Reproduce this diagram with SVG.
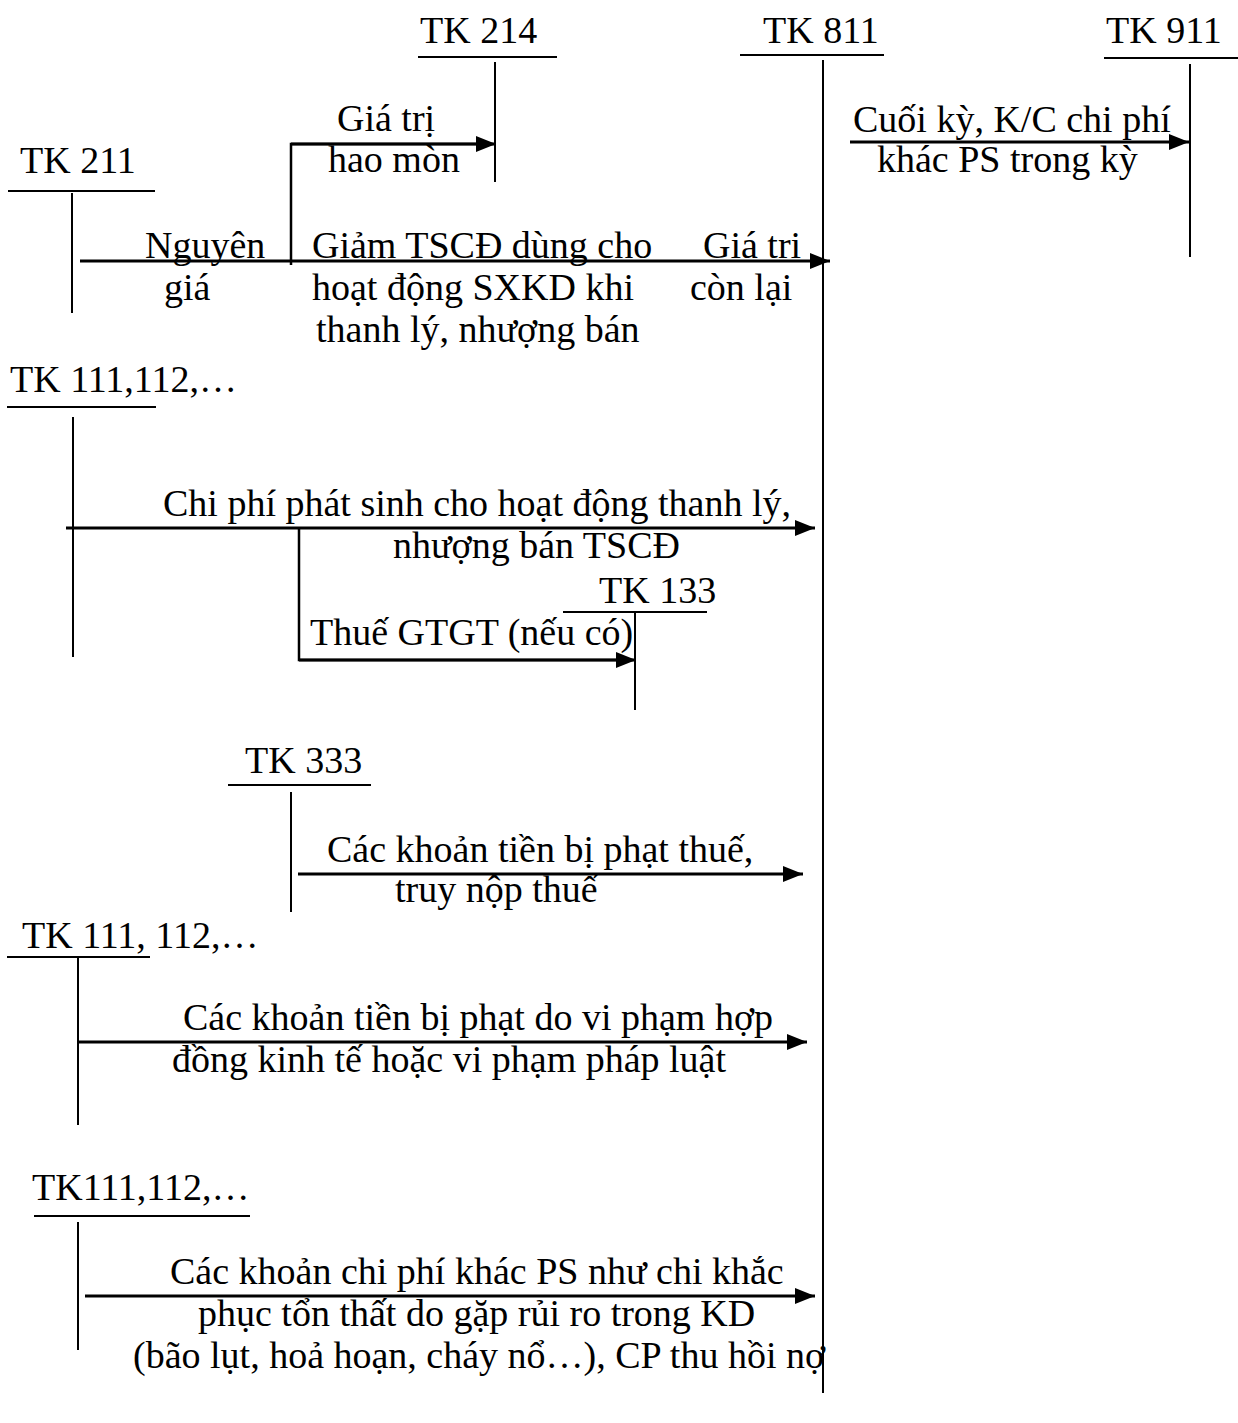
<svg xmlns="http://www.w3.org/2000/svg" width="1238" height="1423" viewBox="0 0 1238 1423">
<style>
text{font-family:"Liberation Serif","Times New Roman",serif;font-size:38px;fill:#000}
.ln{stroke:#000;stroke-width:2;fill:none}
.ar{stroke:#000;stroke-width:3;fill:none;marker-end:url(#ah)}
.br{stroke:#000;stroke-width:2.5;fill:none}
</style>
<defs>
<marker id="ah" markerUnits="userSpaceOnUse" markerWidth="20" markerHeight="16" refX="20" refY="8" orient="auto">
<path d="M0,0 L20,8 L0,16 Z" fill="#000"/>
</marker>
</defs>
<rect width="1238" height="1423" fill="#fff"/>
<g id="tk214">
<text x="420" y="43">TK  214</text>
<line class="ln" x1="418" y1="57" x2="557" y2="57"/>
<line class="ln" x1="495" y1="62" x2="495" y2="182"/>
</g>
<g id="tk811">
<text x="763" y="43">TK 811</text>
<line class="ln" x1="740" y1="55" x2="884" y2="55"/>
<line class="ln" x1="823" y1="60" x2="823" y2="1393"/>
</g>
<g id="tk911">
<text x="1106" y="43">TK 911</text>
<line class="ln" x1="1104" y1="58" x2="1238" y2="58"/>
<line class="ln" x1="1190" y1="64" x2="1190" y2="257"/>
</g>
<g id="tk211">
<text x="20" y="173">TK 211</text>
<line class="ln" x1="8" y1="191" x2="155" y2="191"/>
<line class="ln" x1="72" y1="193" x2="72" y2="313"/>
</g>
<g id="tk111a">
<text x="10" y="392">TK 111,112,…</text>
<line class="ln" x1="7" y1="407" x2="156" y2="407"/>
<line class="ln" x1="73" y1="417" x2="73" y2="657"/>
</g>
<g id="tk133">
<text x="599" y="603">TK 133</text>
<line class="ln" x1="563" y1="612" x2="707" y2="612"/>
<line class="ln" x1="635" y1="612" x2="635" y2="710"/>
</g>
<g id="tk333">
<text x="245" y="773">TK 333</text>
<line class="ln" x1="228" y1="785" x2="371" y2="785"/>
<line class="ln" x1="291" y1="792" x2="291" y2="912"/>
</g>
<g id="tk111b">
<text x="22" y="948">TK 111, 112,…</text>
<line class="ln" x1="7" y1="957" x2="150" y2="957"/>
<line class="ln" x1="78" y1="957" x2="78" y2="1125"/>
</g>
<g id="tk111c">
<text x="32" y="1200">TK111,112,…</text>
<line class="ln" x1="34" y1="1216" x2="250" y2="1216"/>
<line class="ln" x1="78" y1="1222" x2="78" y2="1350"/>
</g>
<g id="connectors">
<line class="ar" x1="80" y1="261" x2="830" y2="261"/>
<polyline class="br" points="291,265 291,144 476,144"/>
<line class="ar" x1="291" y1="144" x2="496" y2="144"/>
<line class="ar" x1="850" y1="142" x2="1189" y2="142"/>
<line class="ar" x1="66" y1="528" x2="815" y2="528"/>
<polyline class="br" points="299,528 299,660 620,660"/>
<line class="ar" x1="299" y1="660" x2="636" y2="660"/>
<line class="ar" x1="298" y1="874" x2="803" y2="874"/>
<line class="ar" x1="78" y1="1042" x2="807" y2="1042"/>
<line class="ar" x1="85" y1="1296" x2="815" y2="1296"/>
</g>
<g id="labels">
<text x="337" y="131">Giá trị</text>
<text x="328" y="172">hao mòn</text>
<text x="145" y="258">Nguyên</text>
<text x="164" y="300">giá</text>
<text x="312" y="258">Giảm TSCĐ dùng cho</text>
<text x="312" y="300">hoạt động SXKD khi</text>
<text x="316" y="342">thanh lý, nhượng bán</text>
<text x="703" y="258">Giá tri</text>
<text x="690" y="300">còn lại</text>
<text x="853" y="132">Cuối kỳ, K/C chi phí</text>
<text x="877" y="172">khác PS trong kỳ</text>
<text x="163" y="516">Chi phí phát sinh cho hoạt động thanh lý,</text>
<text x="393" y="558">nhượng bán TSCĐ</text>
<text x="310" y="645">Thuế GTGT (nếu có)</text>
<text x="327" y="862">Các khoản tiền bị phạt thuế,</text>
<text x="395" y="902">truy nộp thuế</text>
<text x="183" y="1030">Các khoản tiền bị phạt do vi phạm hợp</text>
<text x="172" y="1072">đồng kinh tế hoặc vi phạm pháp luật</text>
<text x="170" y="1284">Các khoản chi phí khác PS như chi khắc</text>
<text x="198" y="1326">phục tổn thất do gặp rủi ro trong KD</text>
<text x="133" y="1368">(bão lụt, hoả hoạn, cháy nổ…), CP thu hồi nợ</text>
</g>
</svg>
